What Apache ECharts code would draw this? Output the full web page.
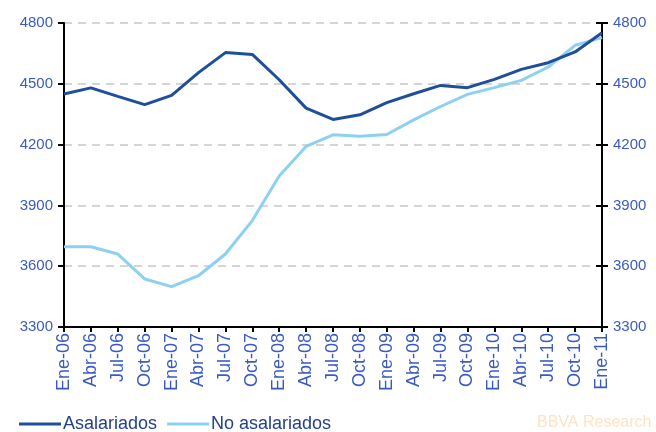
<!DOCTYPE html>
<html>
<head>
<meta charset="utf-8">
<script src="https://cdn.jsdelivr.net/npm/echarts@6/dist/echarts.min.js"></script>
<style>
  html, body { margin: 0; padding: 0; background: #fff; }
  #main { width: 656px; height: 432px; }
</style>
</head>
<body>
<div id="main"></div>
<script>
var chartDom = document.getElementById("main");
var myChart = echarts.init(chartDom);
var option;

const quarters = [
  "Ene-06", "Abr-06", "Jul-06", "Oct-06", "Ene-07", "Abr-07", "Jul-07",
  "Oct-07", "Ene-08", "Abr-08", "Jul-08", "Oct-08", "Ene-09", "Abr-09",
  "Jul-09", "Oct-09", "Ene-10", "Abr-10", "Jul-10", "Oct-10", "Ene-11"
];
const asalariados = [
  4450, 4480, 4438, 4397, 4443, 4555, 4654, 4645, 4520, 4380, 4324,
  4347, 4407, 4451, 4492, 4481, 4522, 4571, 4604, 4657, 4752
];
const noAsalariados = [
  3696, 3696, 3660, 3537, 3499, 3553, 3660, 3825, 4045, 4191, 4248,
  4241, 4250, 4322, 4388, 4448, 4481, 4517, 4583, 4690, 4728
];

const labelBlue = "#3a5bc4";
const font = "Liberation Sans, Arial, sans-serif";
const plain = function (v) { return String(v); };

option = {
  animation: false,
  grid: { left: 64, right: 54, top: 23, bottom: 105 },
  legend: {
    left: 14,
    top: 410,
    itemWidth: 42,
    itemHeight: 3,
    itemGap: 10,
    icon: "rect",
    textStyle: { color: "#24408e", fontSize: 18, fontFamily: font, padding: [0, 0, 0, -3] },
    data: ["Asalariados", "No asalariados"]
  },
  xAxis: {
    type: "category",
    data: quarters,
    boundaryGap: false,
    axisLine: { lineStyle: { color: "#000", width: 2 } },
    axisTick: { length: 5, lineStyle: { color: "#000", width: 2 } },
    axisLabel: {
      rotate: 90,
      interval: 0,
      color: labelBlue,
      fontSize: 18,
      fontFamily: font,
      margin: 6
    },
    splitLine: { show: false }
  },
  yAxis: [
    {
      type: "value",
      min: 3300,
      max: 4800,
      interval: 300,
      position: "left",
      axisLine: { show: true, lineStyle: { color: "#000", width: 2 } },
      axisTick: { show: true, length: 6, lineStyle: { color: "#000", width: 2 } },
      axisLabel: { color: labelBlue, fontSize: 15, fontFamily: font, margin: 11, formatter: plain },
      splitLine: { show: true, lineStyle: { color: "#c8c8c8", type: [8, 6], width: 1.5 } }
    },
    {
      type: "value",
      min: 3300,
      max: 4800,
      interval: 300,
      position: "right",
      axisLine: { show: true, lineStyle: { color: "#000", width: 2 } },
      axisTick: { show: true, length: 6, lineStyle: { color: "#000", width: 2 } },
      axisLabel: { color: labelBlue, fontSize: 15, fontFamily: font, margin: 11, formatter: plain },
      splitLine: { show: false }
    },
    {
      type: "value",
      min: 3300,
      max: 4800,
      interval: 300,
      position: "right",
      axisLine: { show: false },
      axisTick: { show: true, inside: true, length: 6, lineStyle: { color: "#000", width: 2 } },
      axisLabel: { show: false },
      splitLine: { show: false }
    }
  ],
  series: [
    {
      name: "Asalariados",
      type: "line",
      data: asalariados,
      symbol: "none",
      color: "#1f4e9b",
      lineStyle: { width: 3, color: "#1f4e9b" },
      z: 3
    },
    {
      name: "No asalariados",
      type: "line",
      data: noAsalariados,
      symbol: "none",
      color: "#8ed0f2",
      lineStyle: { width: 3, color: "#8ed0f2" },
      z: 2
    }
  ],
  graphic: [
    {
      type: "text",
      left: 537,
      top: 415,
      style: { text: "BBVA Research", fill: "#fde3c6", fontSize: 16, fontFamily: font }
    }
  ]
};

option && myChart.setOption(option);
</script>
</body>
</html>
